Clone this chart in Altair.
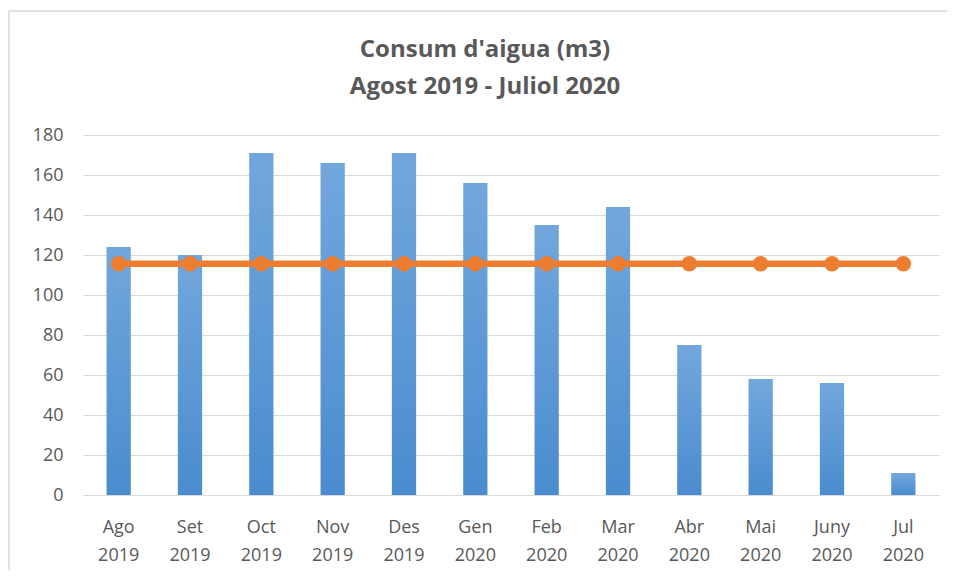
import altair as alt
import pandas as pd

months = ["Ago 2019", "Set 2019", "Oct 2019", "Nov 2019", "Des 2019", "Gen 2020",
          "Feb 2020", "Mar 2020", "Abr 2020", "Mai 2020", "Juny 2020", "Jul 2020"]
consum = [124, 120, 171, 166, 171, 156, 135, 144, 75, 58, 56, 11]

df = pd.DataFrame({"mes": months, "consum": consum})

FONT = "Open Sans"
GREY = "#595959"

x = alt.X("mes:N", sort=months, title=None,
          scale=alt.Scale(paddingInner=0.66, paddingOuter=0.33),
          axis=alt.Axis(labelAngle=0, labelExpr="split(datum.label, ' ')",
                        labelFontSize=18, labelColor=GREY, labelFont=FONT,
                        labelLineHeight=28, labelPadding=23, ticks=False,
                        domain=True, domainColor="#d9d9d9", grid=False))

yaxis = alt.Axis(values=list(range(0, 181, 20)), labelFontSize=18,
                 labelColor=GREY, labelFont=FONT, labelPadding=20,
                 ticks=False, domain=False, grid=True,
                 gridColor="#d9d9d9", gridWidth=1, labelOverlap=False)
yscale = alt.Scale(domain=[0, 180])

base = alt.Chart(df)

bars = base.mark_bar(
    color=alt.Gradient(gradient="linear",
                       stops=[alt.GradientStop(color="#72a7dc", offset=0),
                              alt.GradientStop(color="#4a8ccf", offset=1)],
                       x1=0, x2=0, y1=0, y2=1)
).encode(x=x, y=alt.Y("consum:Q", title=None, scale=yscale, axis=yaxis))

avg = base.transform_joinaggregate(mitjana="mean(consum)", groupby=[]).encode(
    x=alt.X("mes:N", sort=months),
    y=alt.Y("mitjana:Q", title=None, scale=yscale, axis=yaxis))

line = avg.mark_line(color="#ed7d31", strokeWidth=6.5)
pts = avg.mark_point(color="#ed7d31", filled=True, size=240, opacity=1)

border = alt.Chart(pd.DataFrame({"a": [0]})).mark_rect(
    fill=None, stroke="#d9d9d9", strokeWidth=1.5
).encode(x=alt.value(-74), x2=alt.value(866), y=alt.value(-124), y2=alt.value(520))

chart = alt.layer(border, bars, line, pts).properties(
    width=856, height=360,
    title=alt.TitleParams(["Consum d'aigua (m3)", "Agost 2019 - Juliol 2020"],
                          font=FONT, fontSize=24, fontWeight="bold", color=GREY,
                          lineHeight=37, anchor="middle", frame="group",
                          dx=-26, offset=0, dy=89),
    autosize=alt.AutoSizeParams(type="none"),
    padding={"left": 75, "top": 127, "right": 8, "bottom": 75},
).configure(background="white").configure_view(stroke=None)

chart.save("out.html", embed_options={"renderer": "svg", "actions": False})
